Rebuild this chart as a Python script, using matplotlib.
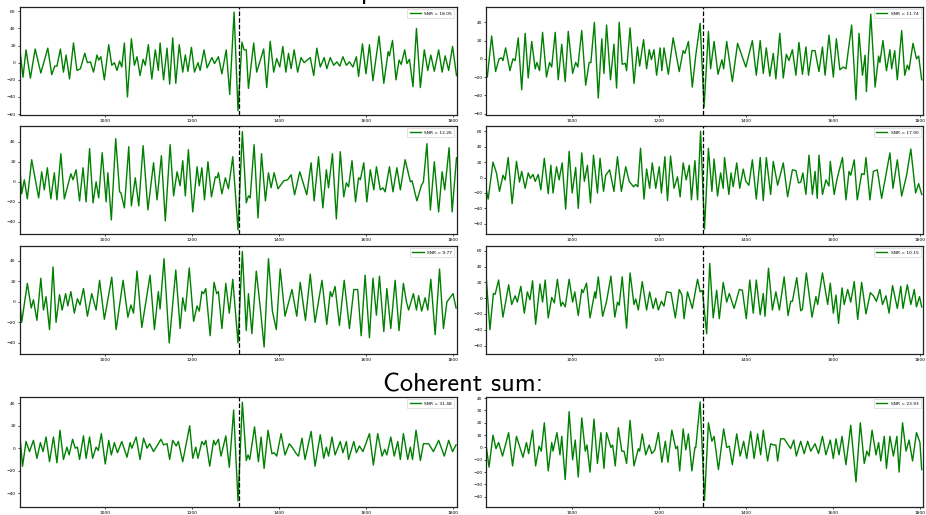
import matplotlib
matplotlib.use("Agg")
import matplotlib.pyplot as plt

# ---- data (local peaks / troughs of each trace) ----
t_1a = [803, 811, 818, 828, 839, 852, 868, 877, 884, 889, 897, 904, 910, 918, 927, 935, 943, 953, 959, 966,
        973, 981, 985, 990, 998, 1008, 1015, 1021, 1027, 1033, 1038, 1044, 1051, 1060, 1067, 1073, 1080, 1087,
        1092, 1099, 1107, 1115, 1122, 1126, 1134, 1142, 1148, 1155, 1162, 1170, 1178, 1184, 1190, 1198, 1205,
        1213, 1218, 1227, 1234, 1245, 1251, 1260, 1268, 1278, 1286, 1296, 1305, 1314, 1319, 1324, 1329, 1341,
        1348, 1364, 1371, 1379, 1387, 1394, 1401, 1408, 1415, 1421, 1427, 1434, 1442, 1450, 1457, 1471, 1479,
        1486, 1494, 1503, 1509, 1517, 1525, 1532, 1539, 1546, 1554, 1561, 1569, 1577, 1582, 1591, 1599, 1607,
        1615, 1629, 1640, 1650, 1653, 1660, 1668, 1675, 1680, 1688, 1693, 1699, 1707, 1715, 1724, 1733, 1741,
        1748, 1756, 1766, 1774, 1781, 1789, 1798, 1807]
h_1a = [20, -17, 15, -18, 16, -12, 17, -14, -4, -4, 16, -11, 9, -19, 23, -9, -7, 11, 0, 1,
        -11, 9, 3, 7, -20, 21, -3, 0, -9, 2, -5, 23, -40, 28, -3, 7, -15, 4,
        -3, 21, -19, 15, -9, 23, -20, 17, -25, 29, -24, 21, -11, 9, -10, 18, -11,
        0, -9, 15, -6, 6, -1, 7, -13, 15, -37, 59, -56, 24, 15, 15, -30, 23,
        -11, 16, -29, 25, -11, 5, -5, 19, -11, 11, -7, 15, -11, 6, 0, 6, -15,
        17, -5, 6, -7, 6, -3, 1, -4, 7, -3, 1, -5, 7, -16, 22, -13, 21,
        -21, 31, -24, 13, 8, 26, -20, 3, -2, 15, -1, 4, -28, 40, -29, 15, -9,
        9, -10, 15, -11, 8, -9, 19, -15]

t_1b = [802, 806, 816, 825, 833, 839, 842, 848, 858, 865, 870, 877, 885, 893, 900, 908, 916, 920, 926, 933,
        942, 949, 954, 962, 969, 977, 985, 992, 1002, 1009, 1014, 1023, 1032, 1040, 1044, 1052, 1061, 1069,
        1074, 1080, 1089, 1097, 1103, 1109, 1116, 1123, 1126, 1134, 1143, 1151, 1156, 1165, 1172, 1178, 1183,
        1189, 1195, 1203, 1207, 1212, 1222, 1233, 1247, 1256, 1260, 1268, 1277, 1285, 1295, 1304, 1314, 1319,
        1327, 1336, 1345, 1349, 1356, 1369, 1381, 1400, 1415, 1424, 1433, 1440, 1447, 1455, 1463, 1469, 1478,
        1486, 1493, 1499, 1507, 1515, 1522, 1530, 1538, 1544, 1552, 1559, 1568, 1576, 1582, 1591, 1601, 1608,
        1616, 1624, 1630, 1643, 1653, 1660, 1668, 1674, 1677, 1687, 1697, 1705, 1708, 1715, 1723, 1731, 1735,
        1742, 1748, 1758, 1765, 1771, 1775, 1784, 1792, 1797, 1804]
h_1b = [-11, -20, 25, -14, 0, 1, -2, 12, -13, 0, -2, 23, -34, 28, -21, 19, -11, -4, -13, 29,
        -20, -4, -9, 29, -23, 16, -25, 30, -16, -4, -9, 31, -29, -4, -4, 40, -43, 22,
        -16, 37, -23, 16, -32, 40, -6, -5, -13, 34, -27, 13, -8, 21, -11, 10, -1,
        10, -18, 12, -13, 12, -17, 23, -14, 9, 6, 19, -31, 4, 39, -53, 30, -11,
        19, -17, -1, -11, 19, -25, 17, -9, 20, -18, 20, -16, 12, -19, 6, -22, 28,
        -21, 5, -2, 10, -18, 18, -17, 13, -18, 9, 9, -14, 13, -18, 26, -20, 22,
        -12, -9, -11, 37, -45, 28, -18, 4, -36, 49, -31, 3, -4, 20, -13, 10, -11,
        9, -23, 31, -18, -7, -12, 17, 0, 3, -23]

t_2a = [803, 808, 814, 821, 831, 847, 854, 860, 867, 875, 883, 889, 898, 906, 921, 926, 933, 941, 949, 956,
        964, 972, 979, 985, 993, 1002, 1006, 1014, 1024, 1033, 1036, 1044, 1054, 1060, 1069, 1077, 1087, 1098,
        1111, 1119, 1129, 1138, 1149, 1157, 1165, 1172, 1178, 1184, 1191, 1201, 1211, 1216, 1222, 1228, 1236,
        1244, 1253, 1257, 1260, 1268, 1276, 1283, 1293, 1305, 1315, 1324, 1329, 1333, 1342, 1351, 1359, 1368,
        1375, 1381, 1388, 1397, 1410, 1419, 1427, 1435, 1447, 1463, 1473, 1480, 1490, 1500, 1508, 1513, 1522,
        1531, 1540, 1548, 1554, 1559, 1567, 1575, 1582, 1586, 1594, 1601, 1609, 1617, 1623, 1632, 1638, 1643,
        1653, 1661, 1670, 1678, 1689, 1701, 1705, 1716, 1726, 1731, 1739, 1747, 1756, 1766, 1774, 1780, 1790,
        1797, 1807]
h_2a = [20, -12, 2, -17, 22, -16, 10, -8, 14, -17, 9, -18, 28, -17, 8, 2, 12, -19, 14, -20,
        33, -21, 0, -16, 29, -20, 9, -38, 43, -10, -11, -26, 35, -24, 4, -24, 36, -28,
        19, -18, 26, -39, 37, -14, 10, -4, 21, -14, 32, -30, 15, -4, 14, -18, 20,
        -15, 5, 4, 9, -12, 4, -7, 25, -48, 50, -21, -14, -16, 37, -36, 28, -19,
        9, -6, 9, -7, 1, 2, 7, -13, 10, -13, 19, -19, 25, -26, 12, -6, 28,
        -37, 30, -15, -1, -5, 21, -20, 4, 2, 19, -20, 12, -8, 15, -8, -6, -10,
        15, -10, 14, -8, 22, 0, 1, -19, -4, 0, 38, -28, 20, -30, 10, -8, 34,
        -30, 24]

t_2b = [802, 808, 819, 827, 834, 842, 847, 854, 863, 873, 880, 885, 893, 900, 905, 911, 916, 923, 929, 937,
        946, 952, 957, 965, 971, 978, 986, 994, 1001, 1009, 1015, 1023, 1029, 1036, 1043, 1050, 1059, 1065,
        1073, 1078, 1087, 1097, 1105, 1114, 1124, 1132, 1142, 1147, 1152, 1158, 1166, 1172, 1179, 1185, 1193,
        1201, 1206, 1214, 1220, 1227, 1235, 1243, 1249, 1256, 1263, 1270, 1275, 1283, 1289, 1296, 1305, 1314,
        1322, 1327, 1335, 1342, 1348, 1351, 1361, 1366, 1371, 1379, 1386, 1394, 1400, 1407, 1415, 1424, 1433,
        1440, 1447, 1457, 1463, 1473, 1486, 1496, 1507, 1515, 1521, 1526, 1531, 1538, 1545, 1553, 1559, 1564,
        1568, 1576, 1584, 1591, 1594, 1603, 1609, 1622, 1630, 1637, 1641, 1649, 1656, 1666, 1672, 1676, 1685,
        1693, 1702, 1712, 1731, 1738, 1748, 1758, 1769, 1779, 1790, 1797, 1804]
h_2b = [-12, -28, 20, 6, -18, 3, -3, 26, -34, 21, -6, 8, -14, 6, -1, 4, -5, 4, -16, 25,
        -21, 16, -20, 14, -3, 19, -41, 34, -20, 13, -40, 32, -5, 16, -33, 29, -20, 25,
        -18, 3, 10, -18, 27, -18, 14, -5, -12, -9, -12, 38, -28, 11, -14, 19, -14,
        14, -20, 27, -30, 28, -14, 1, -25, 19, -3, 16, -29, 22, -29, 60, -67, 38,
        -18, 24, -24, 6, -14, 26, -22, 6, -12, 19, -14, 11, -5, -10, 23, -28, 26,
        -30, 26, -22, 21, -10, 19, -25, 10, 9, -7, -6, 6, -22, 29, -22, 8, -27,
        29, -22, -3, -11, 21, -22, -3, 26, -29, 8, 3, 23, -29, 5, 4, 26, -29,
        8, 10, -27, 32, -14, 23, -24, 2, 37, -20, -8, -22]

t_3a = [803, 808, 821, 830, 835, 843, 852, 858, 864, 872, 880, 887, 895, 901, 909, 914, 921, 929, 936, 942,
        950, 959, 969, 979, 987, 998, 1015, 1025, 1041, 1052, 1059, 1065, 1073, 1084, 1103, 1113, 1122, 1126,
        1135, 1147, 1162, 1172, 1178, 1184, 1193, 1203, 1211, 1216, 1222, 1226, 1231, 1241, 1250, 1256, 1260,
        1268, 1277, 1285, 1293, 1305, 1315, 1324, 1329, 1337, 1347, 1356, 1365, 1375, 1384, 1393, 1402, 1413,
        1429, 1440, 1448, 1460, 1471, 1482, 1498, 1509, 1517, 1521, 1528, 1538, 1549, 1561, 1571, 1580, 1588,
        1597, 1607, 1615, 1623, 1630, 1640, 1647, 1656, 1666, 1675, 1685, 1692, 1697, 1708, 1715, 1720, 1727,
        1735, 1741, 1748, 1758, 1768, 1777, 1785, 1799, 1806]
h_3a = [5, -20, 18, -6, 2, -18, 23, -8, 5, -27, 34, -20, 7, -8, 8, -4, 10, -11, 3, -3,
        13, -14, 8, -8, 21, -17, 24, -27, 21, -15, -3, -11, 30, -25, 26, -27, 10, -7,
        42, -40, 31, -26, 4, -9, 33, -19, -4, -9, 10, 8, 13, -33, 19, 8, 10,
        -26, 18, -11, 22, -40, 49, -28, 8, -31, 30, -5, -44, 42, -9, -27, 32, -14,
        12, -14, 19, -18, 27, -20, 21, -22, 10, 5, 15, -23, 21, -26, 12, 12, -33,
        26, -35, 23, -13, 25, -29, 13, -26, 21, -28, 18, 0, -8, 8, -8, 6, -9,
        4, -8, 22, -32, 32, -26, 0, 8, -6]

t_3b = [802, 812, 820, 824, 832, 842, 855, 862, 870, 875, 883, 891, 898, 904, 910, 917, 927, 933, 939, 946,
        954, 960, 967, 975, 979, 985, 994, 1002, 1007, 1015, 1023, 1026, 1034, 1042, 1053, 1055, 1061, 1071,
        1080, 1090, 1099, 1105, 1109, 1116, 1126, 1134, 1143, 1147, 1153, 1162, 1172, 1179, 1187, 1193, 1199,
        1206, 1212, 1218, 1228, 1238, 1247, 1253, 1258, 1266, 1277, 1289, 1295, 1300, 1310, 1317, 1325, 1333,
        1339, 1348, 1356, 1362, 1373, 1385, 1392, 1401, 1409, 1417, 1424, 1433, 1440, 1444, 1452, 1461, 1469,
        1477, 1488, 1497, 1503, 1507, 1517, 1526, 1530, 1539, 1552, 1561, 1565, 1576, 1588, 1594, 1601, 1607,
        1613, 1621, 1626, 1634, 1641, 1649, 1657, 1666, 1676, 1686, 1693, 1700, 1708, 1714, 1722, 1729, 1737,
        1748, 1756, 1761, 1771, 1779, 1787, 1792, 1799, 1804]
h_3b = [38, -40, 6, 5, 23, -24, 17, -8, 3, -5, 15, -19, 8, -2, 22, -33, 18, -5, 23, -25,
        1, -6, 24, -10, -5, -11, 24, -5, 8, -22, 11, 7, 19, -25, 8, 0, 27, -23,
        -4, 28, -24, -5, -9, 27, -38, 32, -8, -1, -15, 21, -15, 8, -13, 0, -15,
        -4, -10, 8, 7, -25, 11, 4, -26, 8, -13, 24, 8, 10, -45, 44, -25, 10,
        -26, 20, -5, 6, -13, 11, 10, -26, 23, -19, 23, -21, 6, -23, 38, -15, 8,
        -15, 27, -22, -4, -4, 26, -16, -14, 32, -24, 2, -8, 32, -8, 19, -19, 4,
        -32, 13, -8, 11, -5, 21, -27, 20, -20, 7, 3, -4, 11, -8, 3, -19, 16,
        -13, 15, -13, 17, -8, 11, -11, 2, -11]

t_4a = [803, 810, 818, 826, 835, 843, 851, 857, 864, 872, 881, 889, 896, 904, 912, 917, 925, 931, 936, 941,
        950, 956, 964, 971, 979, 984, 991, 1000, 1008, 1014, 1021, 1028, 1038, 1050, 1057, 1061, 1071, 1080,
        1088, 1096, 1102, 1111, 1128, 1134, 1142, 1148, 1155, 1163, 1168, 1178, 1194, 1201, 1208, 1213, 1222,
        1227, 1231, 1240, 1249, 1253, 1260, 1266, 1277, 1285, 1295, 1305, 1315, 1324, 1328, 1332, 1343, 1352,
        1358, 1365, 1374, 1383, 1388, 1394, 1404, 1413, 1423, 1431, 1439, 1444, 1452, 1459, 1473, 1482, 1494,
        1502, 1508, 1513, 1521, 1528, 1540, 1546, 1554, 1559, 1571, 1577, 1584, 1592, 1607, 1616, 1626, 1636,
        1642, 1647, 1656, 1664, 1672, 1678, 1685, 1695, 1701, 1706, 1714, 1724, 1731, 1743, 1754, 1766, 1779,
        1789, 1798, 1806]
h_4a = [16, -16, 6, -3, 7, -9, 5, -3, 10, -12, 10, -13, 16, -10, 1, -6, 8, 0, 1, -10,
        11, -9, 10, -9, 1, -2, 13, -14, 7, -6, 5, -4, 6, -8, 5, 0, 10, -10,
        9, 0, 4, -3, 8, 3, 4, -10, 7, 2, 6, -12, 20, -9, 1, -9, 6,
        3, 7, -16, 7, 3, 8, -7, 11, -17, 34, -47, 41, -11, -6, -10, 19, -12,
        10, -18, 16, -5, -4, -7, 13, -6, 4, 0, -5, -7, 9, -10, 15, -16, 12,
        -9, 1, -7, 10, -6, 6, -4, 6, -10, 6, -4, 2, -3, 13, -15, 13, -7,
        -1, -6, 10, -7, 6, -10, 13, -10, 1, -10, 16, -11, 4, 4, -3, 7, -7,
        7, -3, 3]

t_4b = [802, 810, 819, 826, 832, 841, 855, 864, 873, 888, 896, 901, 910, 917, 925, 930, 937, 946, 954, 957,
        966, 973, 977, 985, 994, 1002, 1008, 1015, 1023, 1031, 1035, 1042, 1051, 1059, 1067, 1074, 1080, 1090,
        1094, 1100, 1107, 1115, 1120, 1126, 1134, 1143, 1153, 1156, 1162, 1170, 1178, 1184, 1191, 1199, 1207,
        1215, 1221, 1230, 1239, 1243, 1248, 1256, 1262, 1268, 1276, 1283, 1285, 1295, 1305, 1314, 1322, 1327,
        1337, 1349, 1356, 1362, 1369, 1379, 1387, 1395, 1402, 1411, 1419, 1427, 1434, 1440, 1450, 1457, 1463,
        1469, 1473, 1480, 1488, 1503, 1510, 1516, 1526, 1534, 1542, 1549, 1559, 1567, 1576, 1584, 1594, 1601,
        1607, 1614, 1621, 1630, 1641, 1653, 1663, 1672, 1678, 1683, 1690, 1699, 1705, 1710, 1718, 1723, 1731,
        1739, 1747, 1752, 1760, 1768, 1775, 1783, 1792, 1800, 1804]
h_4b = [5, -16, 10, -1, 4, -7, 12, -15, 9, -8, 4, -5, 14, -15, 1, -3, 20, -19, 4, -3,
        12, -6, 9, -26, 29, -10, 6, -24, 24, -3, 2, -20, 23, -13, 12, -17, 12, 0,
        2, -15, 16, -3, -3, -13, 22, -15, -1, -3, 11, -6, 2, -5, -2, 12, -12,
        5, -12, 14, -1, 1, -19, 15, -2, 11, -19, 0, 0, 37, -43, 20, 5, 9,
        -18, 15, 0, 1, -14, 11, -7, 5, -9, 13, -9, 11, -6, 14, -11, 3, 2,
        2, -11, 7, 7, -1, 6, -7, 5, -5, 5, -3, 3, -5, 9, -6, 6, -9, 7,
        -6, 9, -14, 18, -28, 20, -13, -3, -7, 14, -6, 4, -11, 9, -17, 9, -7,
        9, -20, 20, -3, 6, -11, 12, 4, -18]

snr_labels = ["SNR = 18.05", "SNR = 11.74", "SNR = 12.26", "SNR = 17.90",
              "SNR = 9.77", "SNR = 10.15", "SNR = 31.48", "SNR = 23.93"]
merger_time = [1307, 1302]          # dashed line, left / right column
title_top = "Input detector data:"
title_sum = "Coherent sum:"

traces = [(t_1a, h_1a), (t_1b, h_1b), (t_2a, h_2a), (t_2b, h_2b),
          (t_3a, h_3a), (t_3b, h_3b), (t_4a, h_4a), (t_4b, h_4b)]
ylims = [(-61, 65), (-61.6, 56.8), (-52, 55.6), (-73.3, 66.9),
         (-50.8, 54.4), (-70.7, 66.1), (-52.3, 45.6), (-48.3, 40.9)]

W, H = 926, 515
fig = plt.figure(figsize=(W / 100, H / 100), dpi=100)

col_left = [19.5, 486]
row_top = [7, 126, 246, 397]
row_h = [108, 108, 108, 110]
ax_w = 437

for i, (t, h) in enumerate(traces):
    r, c = divmod(i, 2)
    ax = fig.add_axes([col_left[c] / W, 1 - (row_top[r] + row_h[r]) / H, ax_w / W, row_h[r] / H])
    ax.plot(t, h, color="green", lw=1.0, solid_joinstyle="round", label=snr_labels[i])
    ax.axvline(merger_time[c], color="k", ls="--", lw=0.9)
    ax.set_xlim(803, 1807)
    ax.set_ylim(*ylims[i])
    ax.set_xticks([1000, 1200, 1400, 1600, 1800])
    ax.tick_params(labelsize=3.2, length=1.5, width=0.5, pad=1.2)
    for s in ax.spines.values():
        s.set_linewidth(0.9)
        s.set_color("#222222")
    leg = ax.legend(loc="upper right", fontsize=3.2, handlelength=2.5, borderpad=0.5,
                    framealpha=1, fancybox=False)
    leg.get_frame().set_linewidth(0.4)

# the upper heading sits just above the top edge, only its descender shows (as in the reference)
fig.text(450 / W, 1 + 1.5 / H, title_top, family="cmss10", fontsize=19, ha="center", va="baseline")
fig.text(463 / W, 1 - 391 / H, title_sum, family="cmss10", fontsize=19, ha="center", va="baseline")

fig.savefig("out.png", dpi=100)
